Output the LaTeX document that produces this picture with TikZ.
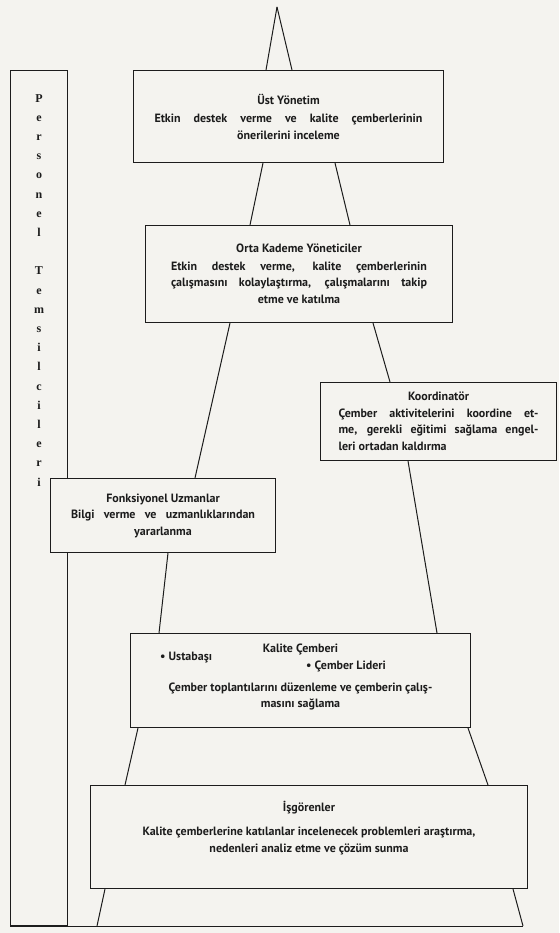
\documentclass[tikz,border=0pt]{standalone}
\usepackage{fontspec}
\setmainfont{PT Sans}
\newfontfamily\harffont{Liberation Serif}
\usetikzlibrary{positioning, calc}
\definecolor{KagitBg}{HTML}{F4F3EF}
\definecolor{Murekkep}{HTML}{1C1C1C}
\newcommand{\yasla}[2]{\makebox[#1][s]{#2}}
\tikzset{
  kutu/.style={draw=Murekkep, line width=1pt, fill=KagitBg, anchor=north west,
    align=center, inner sep=0pt, text=Murekkep,
    font=\fontsize{12}{16.5}\selectfont\bfseries},
  bacak/.style={draw=Murekkep, line width=1pt},
  madde/.style={anchor=base west, inner sep=0pt, text=Murekkep,
    font=\fontsize{12}{16.5}\selectfont\bfseries},
}

\begin{document}
\begin{tikzpicture}[x=1pt, y=-1pt]
  \useasboundingbox (0,0) rectangle (559,933);
  \fill[KagitBg] (0,0) rectangle (559,933);
  %% Personel Temsilcileri column
  \node[draw=Murekkep, line width=1pt, anchor=north west, inner sep=0pt,
        minimum width=57pt, minimum height=855pt] (kolon) at (10,70) {};
  \node[anchor=north, align=center, inner sep=0pt, text=Murekkep,
        font=\harffont\bfseries\fontsize{12}{19.2}\selectfont] (harfler)
        at ([yshift=-24pt]kolon.north)
        {P\\e\\r\\s\\o\\n\\e\\l\\\mbox{}\\T\\e\\m\\s\\i\\l\\c\\i\\l\\e\\r\\i};
  %% Apex
  \coordinate (tepe) at (277,7);
  %% Boxes
  \node[kutu, minimum width=310pt, minimum height=92pt] (ust) at (133,70)
    {Üst Yönetim\\[2pt] \yasla{268pt}{Etkin destek verme ve kalite çemberlerinin}\\
     önerilerini inceleme};
  \node[kutu, minimum width=307pt, minimum height=97pt] (orta) at (145,225)
    {Orta Kademe Yöneticiler\\[1pt]
     \yasla{256pt}{Etkin destek verme, kalite çemberlerinin}\\
     \yasla{256pt}{çalışmasını kolaylaştırma, çalışmalarını takip}\\ etme ve katılma};
  \node[kutu, minimum width=236pt, minimum height=78pt] (koord) at (320,382)
    {Koordinatör\\
     \yasla{200pt}{Çember aktivitelerini koordine et-}\\
     \yasla{200pt}{me, gerekli eğitimi sağlama engel-}\\
     \makebox[200pt][l]{leri ortadan kaldırma}};
  \node[kutu, minimum width=225pt, minimum height=74pt] (fonk) at (50,478)
    {Fonksiyonel Uzmanlar\\
     \yasla{184pt}{Bilgi verme ve uzmanlıklarından}\\ yararlanma};
  \node[kutu, minimum width=340pt, minimum height=94pt] (kalite) at (130,633)
    {Kalite Çemberi\\[22pt]
     Çember toplantılarını düzenleme ve çemberin çalış-\\ masını sağlama\\[-7pt]\mbox{}};
  \node[madde] (usta) at ([xshift=30pt, yshift=-27pt]kalite.north west) {• Ustabaşı};
  \node[madde] (lider) at ([xshift=176pt, yshift=-36pt]kalite.north west) {• Çember Lideri};
  \node[kutu, minimum width=437pt, minimum height=103pt] (isgoren) at (90,785)
    {İşgörenler\\[8pt]
     Kalite çemberlerine katılanlar incelenecek problemleri araştırma,\\
     nedenleri analiz etme ve çözüm sunma\\[4pt]\mbox{}};
  %% Pyramid legs
  \draw[bacak] (tepe) -- ([xshift=133pt]ust.north west);
  \draw[bacak] (tepe) -- ([xshift=159pt]ust.north west);
  \draw[bacak] ([xshift=130pt]ust.south west) -- ([xshift=105pt]orta.north west);
  \draw[bacak] ([xshift=202pt]ust.south west) -- ([xshift=205pt]orta.north west);
  \draw[bacak] ([xshift=85pt]orta.south west) -- ([xshift=145pt]fonk.north west);
  \draw[bacak] ([xshift=228pt]orta.south west) -- ([xshift=70pt]koord.north west);
  \draw[bacak] ([xshift=118pt]fonk.south west) -- ([xshift=29pt]kalite.north west);
  \draw[bacak] ([xshift=88pt]koord.south west) -- ([xshift=307pt]kalite.north west);
  \draw[bacak] ([xshift=8pt]kalite.south west) -- ([xshift=35pt]isgoren.north west);
  \draw[bacak] ([xshift=338pt]kalite.south west) -- ([xshift=398pt]isgoren.north west);
  \draw[bacak] ([xshift=15pt]isgoren.south west) -- ([xshift=87pt]kolon.south west);
  \draw[bacak] ([xshift=423pt]isgoren.south west) -- ([xshift=513pt]kolon.south west);
  %% Base
  \draw[bacak] (kolon.south west) -- ([xshift=513pt]kolon.south west);
\end{tikzpicture}
\end{document}
